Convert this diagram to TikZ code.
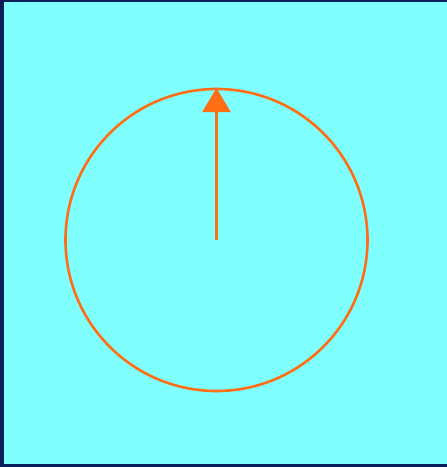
\documentclass[tikz,border=0pt]{standalone}
\usetikzlibrary{arrows.meta}
\definecolor{navy}{RGB}{10,30,90}
\definecolor{bgcyan}{RGB}{128,255,255}
\definecolor{org}{RGB}{255,110,20}
\begin{document}
\begin{tikzpicture}[x=1pt,y=-1pt,
  ring/.style={draw=org,line width=2.6pt},
  needle/.style={draw=org,line width=2.6pt,-{Triangle[length=24pt,width=28pt]}}]
\useasboundingbox (0,0) rectangle (447,467);
\fill[navy] (0,0) rectangle (447,467);
\fill[bgcyan] (4,2) rectangle (447,464);
\coordinate (c) at (216.5,240);
\coordinate (tip) at (216.5,88);
\draw[ring] (c) circle[radius=151];
\draw[needle] (c) -- (tip);
\end{tikzpicture}
\end{document}
